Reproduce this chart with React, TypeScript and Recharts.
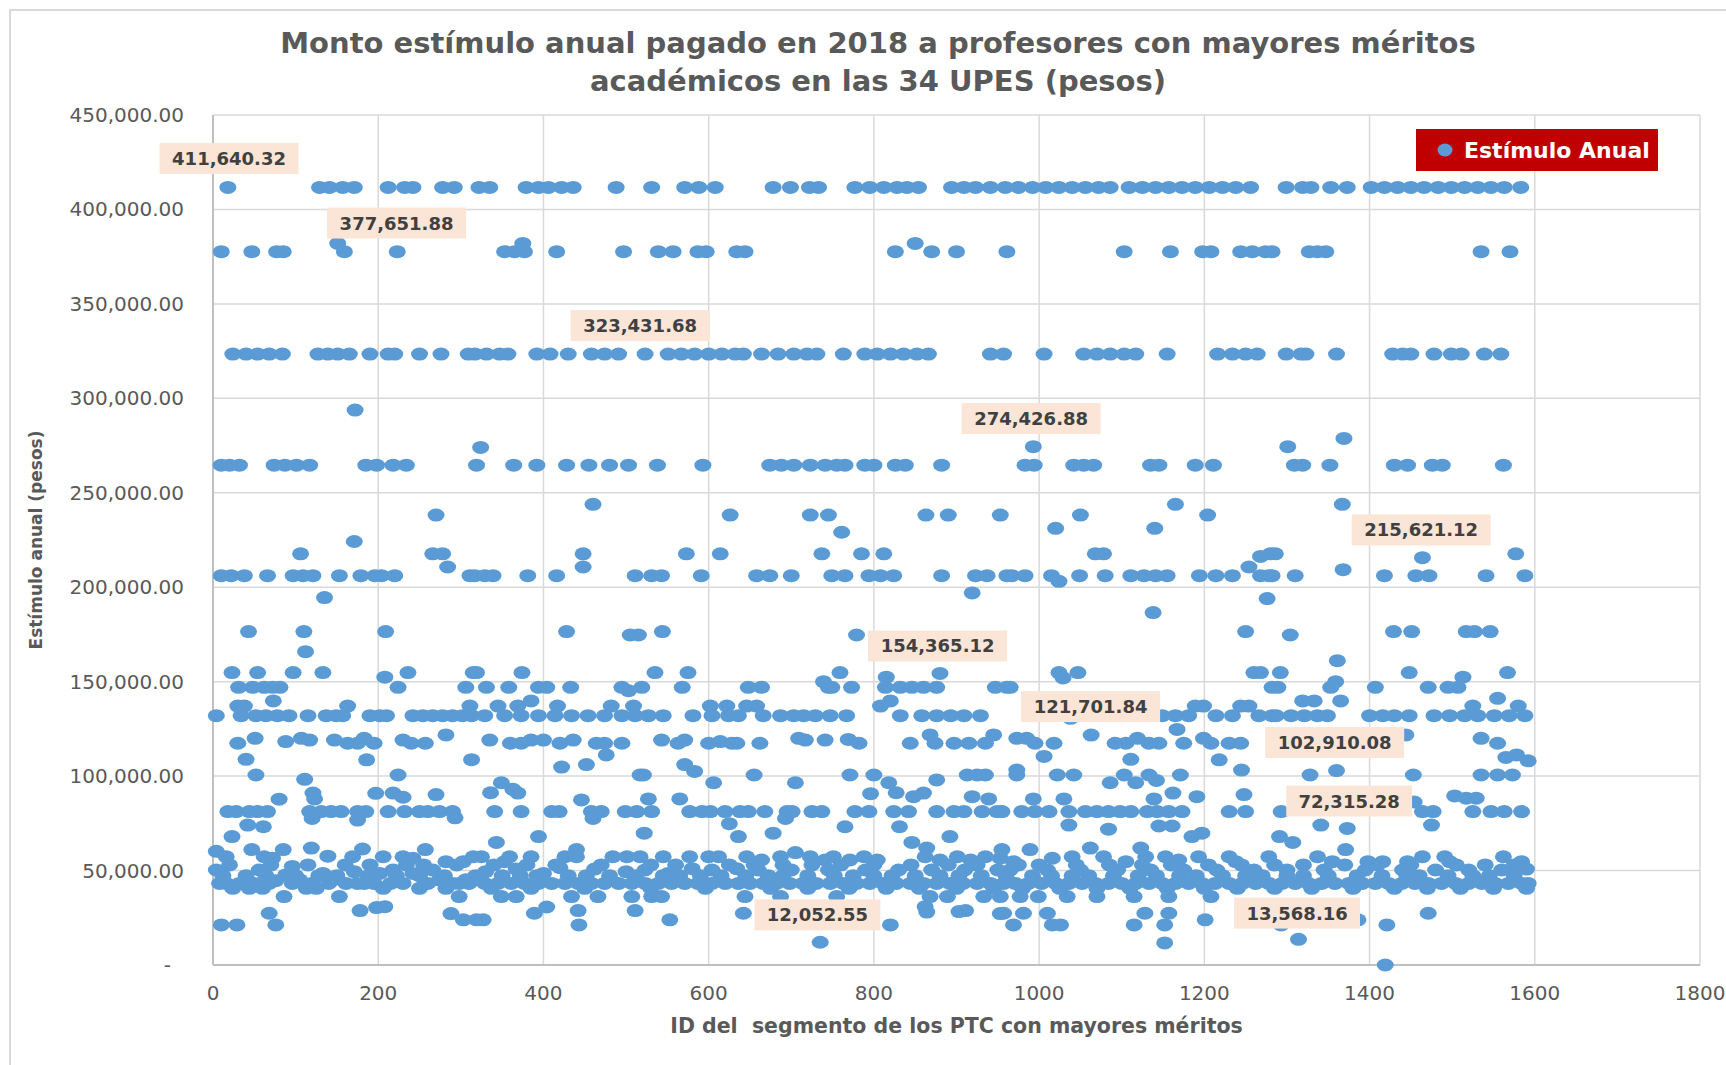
import React from 'react';
import { ScatterChart, Scatter, XAxis, YAxis, CartesianGrid, ReferenceDot } from 'recharts';

const FONT = '"DejaVu Sans", sans-serif';
const AZUL = '#5B9BD5';

// ids of PTC paid exactly the same amount (horizontal rows of dots)
const ids411 = [18, 129, 141, 157, 171, 212, 232, 242, 278, 292, 322, 335, 379, 394, 406, 422, 436, 488, 531, 571, 588, 608, 678, 699, 722, 733, 777, 795, 812, 828, 840, 854, 894, 909, 923, 941, 959, 975, 992, 1008, 1024, 1040, 1056, 1072, 1086, 1109, 1125, 1141, 1157, 1173, 1189, 1206, 1222, 1238, 1256, 1299, 1319, 1329, 1353, 1373, 1402, 1418, 1434, 1450, 1466, 1483, 1499, 1515, 1531, 1547, 1563, 1583];
const ids382 = [151, 375, 850];
const ids377 = [10, 47, 77, 85, 159, 223, 353, 365, 377, 416, 497, 539, 557, 587, 597, 634, 644, 826, 870, 900, 961, 1103, 1159, 1198, 1208, 1244, 1258, 1274, 1282, 1327, 1337, 1347, 1535, 1570];
const ids323 = [24, 40, 54, 68, 84, 127, 139, 151, 165, 190, 212, 220, 250, 276, 309, 317, 331, 347, 357, 392, 408, 430, 458, 474, 491, 523, 551, 567, 583, 600, 616, 632, 642, 664, 684, 703, 719, 731, 763, 789, 804, 820, 836, 852, 866, 941, 957, 1006, 1054, 1070, 1086, 1103, 1117, 1155, 1216, 1234, 1250, 1264, 1299, 1317, 1323, 1360, 1428, 1440, 1450, 1478, 1499, 1511, 1539, 1559];
const ids264 = [10, 20, 32, 74, 87, 101, 117, 185, 198, 218, 234, 319, 364, 392, 428, 455, 480, 503, 538, 593, 674, 688, 703, 723, 741, 755, 765, 789, 800, 826, 838, 882, 983, 994, 1042, 1054, 1066, 1135, 1145, 1189, 1211, 1309, 1319, 1352, 1430, 1446, 1476, 1488, 1562];
const ids206 = [10, 22, 38, 66, 97, 109, 121, 153, 179, 196, 204, 220, 311, 317, 329, 339, 381, 416, 511, 531, 543, 591, 658, 674, 700, 749, 765, 794, 808, 824, 882, 923, 937, 961, 967, 983, 1015, 1049, 1080, 1111, 1127, 1141, 1155, 1194, 1214, 1234, 1268, 1278, 1282, 1310, 1418, 1456, 1472, 1541, 1588];
const ids155 = [23, 54, 97, 133, 236, 315, 319, 374, 535, 575, 759, 1024, 1047, 1260, 1268, 1292, 1448, 1567];
const ids147 = [31, 48, 62, 72, 81, 224, 306, 331, 358, 394, 404, 433, 495, 519, 568, 648, 664, 745, 749, 773, 814, 832, 846, 860, 876, 947, 961, 965, 1282, 1289, 1353, 1407, 1471, 1495, 1507];
const ids137 = [30, 38, 163, 311, 345, 369, 417, 482, 509, 602, 622, 646, 658, 808, 1189, 1199, 1244, 1254, 1525, 1580];
const ids132 = [4, 34, 52, 64, 78, 92, 115, 137, 149, 157, 190, 202, 210, 242, 254, 266, 278, 290, 302, 313, 329, 353, 373, 394, 414, 434, 454, 474, 495, 511, 527, 545, 581, 604, 624, 636, 666, 687, 703, 715, 729, 747, 767, 832, 858, 876, 893, 909, 929, 1149, 1165, 1181, 1214, 1234, 1266, 1282, 1287, 1305, 1321, 1337, 1349, 1400, 1416, 1430, 1448, 1478, 1497, 1515, 1531, 1551, 1569, 1588];
const ids100 = [52, 224, 517, 521, 655, 771, 800, 913, 925, 935, 973, 1022, 1042, 1103, 1133, 1171, 1328, 1453, 1535, 1555, 1573];
const ids81 = [18, 28, 44, 54, 66, 117, 131, 143, 155, 175, 185, 212, 232, 250, 260, 274, 290, 341, 373, 410, 419, 458, 470, 499, 513, 531, 577, 592, 602, 620, 638, 648, 668, 695, 701, 725, 737, 777, 794, 824, 842, 876, 897, 909, 931, 949, 955, 979, 995, 1012, 1036, 1056, 1070, 1084, 1098, 1111, 1131, 1143, 1157, 1173, 1230, 1250, 1293, 1464, 1477, 1525, 1547, 1563, 1584];
const ids53 = [20, 70, 115, 160, 190, 255, 295, 340, 380, 415, 470, 530, 560, 625, 655, 690, 725, 760, 800, 845, 890, 925, 975, 1000, 1045, 1085, 1125, 1160, 1205, 1245, 1285, 1320, 1370, 1410, 1450, 1505, 1540, 1575];
const ids47 = [12, 40, 64, 100, 128, 150, 188, 222, 250, 280, 318, 350, 372, 392, 430, 452, 480, 512, 545, 565, 590, 615, 645, 672, 690, 720, 752, 775, 800, 822, 850, 880, 903, 930, 960, 992, 1015, 1040, 1060, 1090, 1120, 1142, 1170, 1190, 1222, 1250, 1270, 1300, 1320, 1350, 1385, 1415, 1445, 1460, 1495, 1525, 1545, 1575];
const ids43 = [8, 16, 32, 50, 68, 96, 120, 140, 161, 175, 183, 195, 215, 230, 260, 290, 298, 310, 329, 345, 361, 377, 394, 410, 426, 442, 458, 474, 491, 507, 523, 539, 555, 571, 587, 604, 620, 636, 650, 666, 682, 698, 714, 730, 747, 763, 779, 795, 811, 827, 844, 860, 876, 892, 908, 925, 941, 957, 971, 987, 1003, 1020, 1036, 1052, 1068, 1084, 1100, 1117, 1133, 1149, 1165, 1181, 1197, 1213, 1230, 1246, 1262, 1278, 1294, 1310, 1326, 1342, 1358, 1375, 1391, 1407, 1423, 1439, 1455, 1471, 1487, 1504, 1520, 1536, 1552, 1568, 1584, 1592];
const ids40 = [24, 44, 60, 113, 125, 206, 250, 282, 337, 385, 450, 530, 596, 675, 720, 770, 815, 855, 900, 945, 980, 1025, 1070, 1110, 1155, 1200, 1240, 1285, 1330, 1380, 1430, 1470, 1510, 1550, 1590];
const ids36 = [86, 153, 298, 349, 367, 434, 466, 507, 531, 543, 644, 687, 755, 868, 889, 933, 953, 977, 999, 1034, 1070, 1115, 1157, 1208];

// loose points: [id, miles de pesos]
const sueltosAltos = [
  [106, 217.7], [171, 224.2], [172, 293.8], [324, 274.0], [993, 274.42688], [1301, 274.4], [1369, 278.8],
  [266, 217.7], [278, 217.7], [270, 238.2], [284, 210.7], [135, 194.5], [460, 243.9], [448, 217.7], [448, 210.7],
  [573, 217.7], [614, 217.7], [626, 238.2], [723, 238.2], [745, 238.2], [761, 229.1], [737, 217.7], [785, 217.7],
  [812, 217.7], [919, 197.0], [863, 238.2], [890, 238.2], [953, 238.2], [1020, 231.2], [1024, 203.1], [1050, 238.2],
  [1068, 217.7], [1078, 217.7], [1140, 231.2], [1165, 243.9], [1204, 238.2], [1254, 210.7], [1268, 216.3],
  [1280, 217.7], [1286, 217.7], [1367, 243.9], [1368, 209.3], [1464, 215.62112], [1577, 217.7],
  [1138, 186.6], [1276, 194.0], [43, 176.5], [110, 176.5], [209, 176.5], [428, 176.5], [505, 174.7], [515, 174.7],
  [544, 176.5], [779, 174.7], [1250, 176.5], [1304, 174.7], [1429, 176.5], [1451, 176.5], [1517, 176.5], [1527, 176.5],
  [1546, 176.5], [112, 165.9], [1361, 161.1],
  [208, 152.4], [815, 152.4], [1029, 152.0], [1513, 152.4], [880, 154.36512], [739, 150.0], [1359, 150.0],
  [503, 145.2], [1555, 141.2], [73, 139.8], [385, 139.8], [820, 139.8], [1319, 139.8], [1333, 139.8], [1365, 139.8],
];

const sueltosMedios = [
  [30, 117.4], [51, 120.0], [88, 118.3], [107, 120.0], [117, 119.1], [147, 119.1], [163, 117.4], [175, 117.4],
  [183, 120.0], [195, 117.4], [230, 119.1], [240, 117.4], [257, 117.4], [282, 121.8], [335, 119.1], [360, 117.4],
  [373, 117.4], [385, 119.1], [400, 119.1], [420, 117.4], [436, 119.1], [464, 117.4], [474, 117.4], [495, 117.4],
  [543, 119.1], [563, 117.4], [571, 119.1], [600, 117.4], [614, 118.3], [628, 117.4], [634, 117.4], [662, 117.4],
  [709, 120.0], [717, 119.1], [741, 119.1], [769, 119.4], [782, 117.4], [844, 117.4], [868, 121.8], [874, 117.4],
  [897, 117.4], [915, 117.4], [935, 117.4], [945, 121.8], [973, 120.0], [985, 120.0], [995, 117.4], [1018, 117.4],
  [1063, 121.70184], [1092, 117.4], [1105, 117.4], [1119, 120.0], [1133, 117.4], [1145, 117.4], [1167, 124.7],
  [1175, 117.4], [1199, 120.0], [1208, 117.4], [1230, 117.4], [1244, 117.4], [1444, 121.8], [1535, 120.0],
  [1555, 117.4], [1038, 130.6],
  [40, 108.9], [186, 108.6], [313, 108.7], [476, 111.2], [422, 104.8], [452, 106.1], [571, 106.1], [583, 102.5],
  [1006, 110.4], [1111, 108.9], [1218, 108.6], [1565, 109.9], [1578, 111.2], [1592, 108.1], [973, 103.2],
  [1245, 103.2], [1360, 102.91008],
  [111, 98.3], [606, 96.5], [349, 96.5], [705, 96.5], [818, 96.5], [876, 98.0], [1086, 96.5], [1117, 96.5], [1142, 97.7],
  [363, 93.0], [369, 91.0], [336, 91.2], [121, 91.0], [197, 90.9], [218, 91.0], [270, 90.2], [796, 90.7], [827, 91.2],
  [860, 91.0], [1162, 91.0], [1248, 90.2], [1503, 89.5], [230, 88.8], [848, 89.1], [919, 89.1], [1191, 89.1],
  [123, 87.9], [80, 87.8], [446, 87.4], [527, 87.9], [565, 87.9], [939, 87.9], [993, 87.9], [1030, 87.9],
  [1139, 87.9], [1517, 88.3], [1529, 88.3], [1454, 86.3],
  [120, 77.6], [175, 76.7], [293, 77.9], [460, 77.6], [693, 77.6], [42, 74.1], [61, 73.2], [625, 74.8], [765, 73.2],
  [831, 73.2], [1036, 74.1], [1084, 71.9], [1145, 73.6], [1161, 73.6], [1341, 74.1], [1373, 72.31528], [1475, 74.1],
  [23, 68.0], [394, 68.0], [636, 68.0], [892, 68.0], [1185, 68.0], [1291, 68.0], [522, 69.8], [678, 69.8],
  [1197, 69.8], [343, 64.9], [846, 64.9], [1307, 64.9], [864, 61.9], [1371, 61.1],
];

const sueltosBajos = [
  [4, 60.2], [16, 57.3], [47, 61.1], [62, 57.3], [85, 61.1], [72, 56.5], [119, 61.9], [139, 57.6], [181, 61.4],
  [169, 57.3], [206, 57.3], [230, 57.3], [257, 61.1], [242, 56.5], [282, 54.7], [303, 54.7], [315, 57.3],
  [325, 57.3], [359, 57.3], [385, 57.3], [426, 57.3], [440, 57.3], [484, 57.3], [501, 57.3], [517, 57.3],
  [545, 57.3], [577, 57.3], [600, 57.3], [612, 57.3], [440, 61.1], [353, 54.7], [646, 57.3], [664, 55.6],
  [687, 57.3], [705, 59.5], [723, 57.3], [741, 55.6], [751, 57.3], [771, 55.6], [788, 57.3], [804, 55.6],
  [862, 57.3], [880, 55.6], [901, 57.3], [917, 55.6], [935, 57.3], [953, 56.5], [955, 61.1], [969, 54.7],
  [989, 61.1], [1016, 56.5], [1040, 57.3], [1062, 61.9], [1078, 57.3], [1105, 54.7], [1123, 61.9], [1129, 57.3],
  [1153, 57.3], [1169, 55.6], [1193, 57.3], [1230, 57.3], [1238, 54.7], [1278, 57.3], [1337, 57.3], [1355, 54.7],
  [1398, 54.7], [1416, 54.7], [1446, 54.7], [1464, 57.3], [1491, 57.3], [1497, 54.7], [1562, 57.3], [1584, 54.7],
  [4, 50.3], [56, 50.3], [96, 52.2], [88, 47.7], [133, 48.5], [171, 49.4], [202, 48.5], [218, 50.3], [234, 53.0],
  [242, 48.5], [266, 50.3], [330, 49.4], [367, 50.8], [400, 48.5], [420, 51.5], [462, 50.8], [500, 49.4],
  [523, 50.3], [551, 48.5], [580, 51.0], [604, 50.3], [634, 51.0], [660, 50.3], [700, 50.3], [745, 50.3],
  [790, 50.3], [830, 50.3], [870, 50.3], [910, 50.3], [950, 50.3], [965, 50.3], [1010, 50.3], [1050, 50.3],
  [1095, 50.3], [1135, 50.3], [1175, 50.3], [1215, 50.3], [1260, 50.3], [1300, 50.3], [1345, 50.3], [1395, 50.3],
  [1440, 50.3], [1480, 50.3], [1520, 50.3], [1560, 50.3], [1590, 50.8],
  [76, 44.6], [105, 45.1], [145, 45.1], [274, 45.1], [306, 45.1],
  [10, 21.2], [29, 21.2], [68, 27.4], [76, 21.2], [178, 28.8], [198, 30.4], [208, 30.9], [288, 27.2], [303, 23.9],
  [319, 23.9], [389, 27.4], [404, 30.7], [442, 28.8], [511, 28.8], [327, 23.9], [443, 21.2], [553, 23.9],
  [642, 27.4], [862, 30.9], [864, 28.0], [903, 28.3], [911, 28.8], [953, 27.2], [820, 21.2], [735, 12.05255],
  [957, 27.4], [981, 27.4], [1010, 27.4], [1128, 27.4], [1157, 27.4], [1201, 23.9], [969, 21.2], [1016, 21.2],
  [1026, 21.2], [1115, 21.2], [1152, 21.2], [1152, 11.7], [1471, 27.4], [1421, 21.2], [1419, 0],
  [1314, 13.56816], [1293, 21.2], [1386, 23.9],
];

// data labels: text, and where the box sits (id, miles de pesos)
const etiquetas = [
  { texto: '411,640.32', id: 19.4, miles: 427.0 },
  { texto: '377,651.88', id: 222.2, miles: 392.8 },
  { texto: '323,431.68', id: 517.0, miles: 338.5 },
  { texto: '274,426.88', id: 990.3, miles: 289.3 },
  { texto: '215,621.12', id: 1462.5, miles: 230.3 },
  { texto: '154,365.12', id: 877.1, miles: 168.9 },
  { texto: '121,701.84', id: 1062.3, miles: 136.8 },
  { texto: '102,910.08', id: 1357.8, miles: 117.8 },
  { texto: '72,315.28', id: 1375.3, miles: 86.8 },
  { texto: '12,052.55', id: 731.7, miles: 26.5 },
  { texto: '13,568.16', id: 1312.3, miles: 27.5 },
];

const xTicks = [0, 200, 400, 600, 800, 1000, 1200, 1400, 1600, 1800];
const yTicks = [0, 50000, 100000, 150000, 200000, 250000, 300000, 350000, 400000, 450000];

const nivel = (ids: number[], monto: number) => ids.map((id) => ({ id, monto }));
const sueltos = (pares: number[][]) => pares.map(([id, miles]) => ({ id, monto: miles * 1000 }));

const puntos = [
  ...nivel(ids411, 411640.32),
  ...nivel(ids382, 382000),
  ...nivel(ids377, 377651.88),
  ...nivel(ids323, 323431.68),
  ...nivel(ids264, 264600),
  ...nivel(ids206, 206100),
  ...nivel(ids155, 154800),
  ...nivel(ids147, 147000),
  ...nivel(ids137, 137100),
  ...nivel(ids132, 132000),
  ...nivel(ids100, 100600),
  ...nivel(ids81, 81200),
  ...nivel(ids53, 53000),
  ...nivel(ids47, 47300),
  ...nivel(ids43, 43200),
  ...nivel(ids40, 40600),
  ...nivel(ids36, 36200),
  ...sueltos(sueltosAltos),
  ...sueltos(sueltosMedios),
  ...sueltos(sueltosBajos),
];

const Punto = (p: any) => <ellipse cx={p.cx} cy={p.cy} rx={8.5} ry={6.5} fill={AZUL} />;

function TickY({ x, y, payload }: any) {
  const v = payload.value;
  const txt = v === 0 ? '-' : v.toLocaleString('en-US', { minimumFractionDigits: 2, maximumFractionDigits: 2 });
  return (
    <text x={v === 0 ? x - 13 : x} y={y} dy="0.35em" textAnchor="end" fill="#595959" fontSize={20} fontFamily={FONT}>
      {txt}
    </text>
  );
}

function TickX({ x, y, payload }: any) {
  return (
    <text x={x} y={y} dy="0.71em" textAnchor="middle" fill="#595959" fontSize={20} fontFamily={FONT}>
      {payload.value}
    </text>
  );
}

function Recuadro({ cx, cy, texto }: any) {
  const w = texto.length * 13.2 + 7;
  return (
    <g>
      <rect x={cx - w / 2} y={cy - 15.5} width={w} height={31} fill="#FBE5D6" />
      <text x={cx} y={cy} dy="0.36em" textAnchor="middle" fontWeight="bold" fontSize={18} fill="#404040" fontFamily={FONT}>
        {texto}
      </text>
    </g>
  );
}

export default function App() {
  return (
    <div style={{ position: 'absolute', left: 0, top: 0, width: 1726, height: 1065, background: '#fff', overflow: 'hidden' }}>
      <div style={{ position: 'absolute', left: 9, top: 9, width: 1740, height: 1080, borderLeft: '2px solid #D9D9D9', borderTop: '2px solid #D9D9D9' }} />
      <div
        style={{
          position: 'absolute', left: 0, top: 24, width: 1756, textAlign: 'center', fontFamily: FONT,
          fontWeight: 'bold', fontSize: 29, lineHeight: '38px', color: '#595959',
        }}
      >
        Monto estímulo anual pagado en 2018 a profesores con mayores méritos
        <br />
        académicos en las 34 UPES (pesos)
      </div>
      <ScatterChart width={1726} height={1065} margin={{ top: 115, right: 26, bottom: 0, left: 0 }}>
        <CartesianGrid stroke="#D9D9D9" strokeWidth={1.5} horizontalValues={yTicks} verticalValues={xTicks} />
        <XAxis
          type="number"
          dataKey="id"
          domain={[0, 1800]}
          ticks={xTicks}
          height={100}
          tickSize={0}
          tickMargin={21}
          tick={<TickX />}
          axisLine={{ stroke: '#BFBFBF', strokeWidth: 2 }}
          label={{
            content: ({ viewBox }: any) => (
              <text
                x={viewBox.x + viewBox.width / 2}
                y={viewBox.y + 61}
                dy="0.36em"
                textAnchor="middle"
                fontWeight="bold"
                fontSize={20.5}
                fill="#595959"
                fontFamily={FONT}
                style={{ whiteSpace: 'pre' }}
              >
                ID del  segmento de los PTC con mayores méritos
              </text>
            ),
          }}
        />
        <YAxis
          type="number"
          dataKey="monto"
          domain={[0, 450000]}
          ticks={yTicks}
          width={213}
          tickSize={0}
          tickMargin={29}
          tick={<TickY />}
          axisLine={{ stroke: '#BFBFBF', strokeWidth: 2 }}
          label={{
            content: ({ viewBox }: any) => {
              const cx = viewBox.x + 36;
              const cy = viewBox.y + viewBox.height / 2;
              return (
                <text
                  x={cx}
                  y={cy}
                  dy="0.36em"
                  transform={`rotate(-90, ${cx}, ${cy})`}
                  textAnchor="middle"
                  fontWeight="bold"
                  fontSize={17}
                  fill="#595959"
                  fontFamily={FONT}
                >
                  Estímulo anual (pesos)
                </text>
              );
            },
          }}
        />
        <Scatter data={puntos} fill={AZUL} shape={Punto} isAnimationActive={false} />
        {etiquetas.map((e) => (
          <ReferenceDot
            key={e.texto}
            x={e.id}
            y={e.miles * 1000}
            r={0}
            shape={(p: any) => <Recuadro cx={p.cx} cy={p.cy} texto={e.texto} />}
          />
        ))}
      </ScatterChart>
      <div
        style={{
          position: 'absolute', left: 1416, top: 129, width: 242, height: 42, background: '#C00000',
          display: 'flex', alignItems: 'center', fontFamily: FONT, fontWeight: 'bold', fontSize: 22, color: '#fff',
        }}
      >
        <svg width={48} height={42} style={{ flex: 'none' }}>
          <ellipse cx={29} cy={21} rx={7.5} ry={6.5} fill={AZUL} />
        </svg>
        <span>Estímulo Anual</span>
      </div>
    </div>
  );
}
